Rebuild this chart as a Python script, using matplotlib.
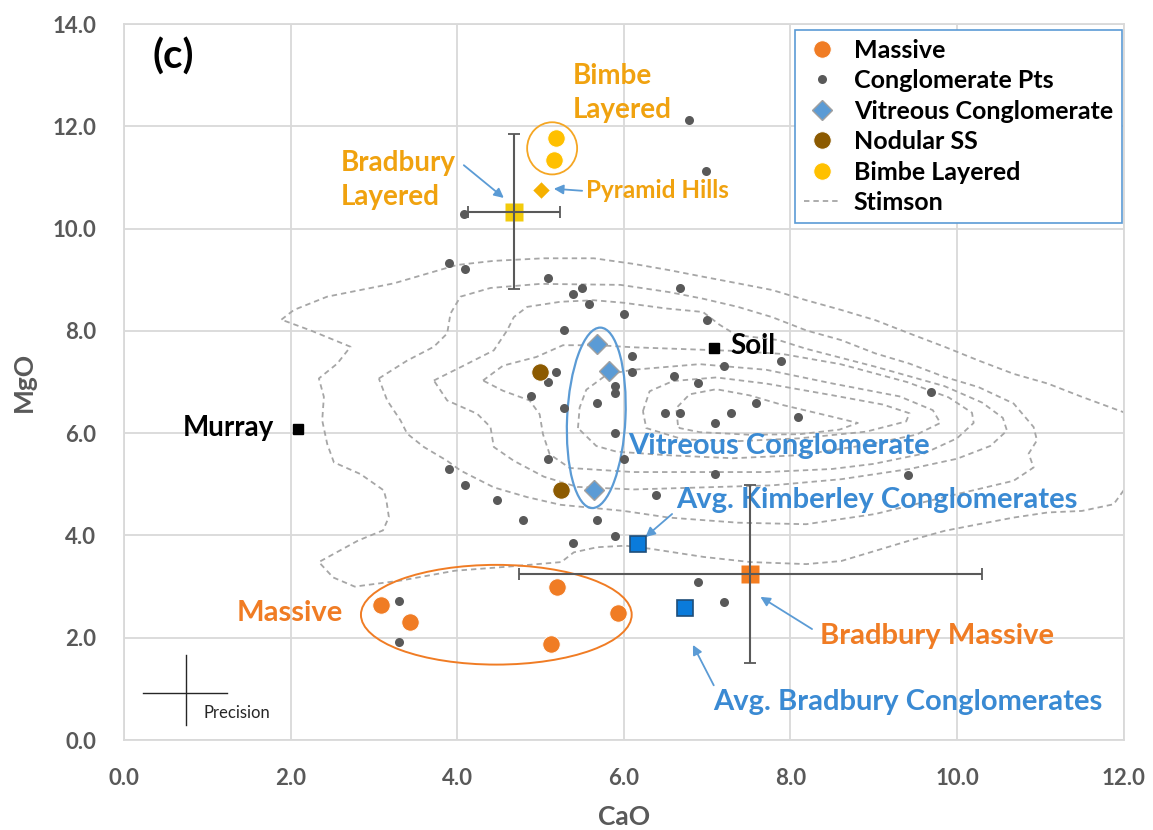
import numpy as np
import matplotlib
matplotlib.use("Agg")
import matplotlib.pyplot as plt
from matplotlib.patches import Ellipse

plt.rcParams['font.family'] = ['Lato', 'DejaVu Sans']
plt.rcParams['font.weight'] = 'bold'

# --- datos ---
conglom_x = [3.90, 4.09, 5.09, 5.39, 5.50, 5.58, 6.68, 6.00, 7.00, 5.28,
             6.10, 5.19, 6.10, 5.09, 5.90, 5.90, 4.89, 5.68, 5.28, 7.20,
             7.89, 6.60, 6.89, 7.59, 6.49, 6.68, 7.29, 7.10, 8.09, 5.90,
             6.00, 5.09, 3.90, 4.09, 4.48, 7.10, 6.39, 4.79, 5.68, 5.90,
             5.39, 6.78, 6.99, 4.08, 9.69, 9.41, 3.30, 3.30, 6.89, 7.20]
conglom_y = [9.33, 9.21, 9.03, 8.72, 8.83, 8.53, 8.83, 8.33, 8.22, 8.02,
             7.51, 7.20, 7.20, 7.00, 6.92, 6.79, 6.72, 6.60, 6.49, 7.31,
             7.42, 7.11, 6.99, 6.60, 6.40, 6.40, 6.40, 6.20, 6.31, 6.01,
             5.50, 5.50, 5.30, 4.99, 4.69, 5.20, 4.80, 4.30, 4.30, 3.98,
             3.86, 12.12, 11.12, 10.28, 6.80, 5.19, 2.72, 1.91, 3.09, 2.69]

massive_x = [3.09, 3.43, 5.20, 5.93, 5.13]
massive_y = [2.64, 2.30, 3.00, 2.49, 1.87]

vitreous_x = [5.68, 5.82, 5.64]
vitreous_y = [7.74, 7.21, 4.88]

nodular_x = [5.00, 5.25]
nodular_y = [7.20, 4.89]

bimbe_x = [5.19, 5.16]
bimbe_y = [11.77, 11.35]

pyramid_x, pyramid_y = [5.01], [10.75]

brad_layered = (4.68, 10.33, 0.55, 1.52)   # x, y, xerr, yerr
brad_massive = (7.52, 3.24, 2.78, 1.74)
avg_kimberley = (6.17, 3.83)
avg_bradbury = (6.74, 2.58)
murray = (2.09, 6.08)
soil = (7.08, 7.67)

# contornos Stimson (vértices, de afuera hacia adentro)
stimson_rings = [
    [(1.89, 8.22), (2.04, 8.41), (2.44, 8.67), (2.84, 8.80), (3.24, 8.93), (3.64, 9.12),
     (4.00, 9.29), (4.44, 9.37), (5.04, 9.42), (5.64, 9.42), (6.12, 9.31), (6.54, 9.19),
     (6.95, 9.06), (7.37, 8.93), (7.78, 8.80), (8.19, 8.60), (8.61, 8.41), (9.02, 8.21),
     (9.43, 7.95), (9.85, 7.69), (10.26, 7.42), (10.68, 7.16), (11.09, 6.97), (11.50, 6.71),
     (12.00, 6.41), (12.20, 6.00), (12.20, 5.20), (12.00, 4.88), (11.88, 4.61), (11.50, 4.48),
     (11.09, 4.45), (10.68, 4.35), (10.26, 4.22), (9.85, 4.09), (9.43, 3.90), (9.02, 3.70),
     (8.61, 3.50), (8.19, 3.44), (7.52, 3.48), (6.96, 3.58), (6.32, 3.74), (6.02, 3.80),
     (5.68, 3.77), (5.40, 3.67), (5.25, 3.48), (4.61, 3.39), (3.97, 3.31), (3.33, 3.12),
     (2.77, 3.00), (2.51, 3.18), (2.34, 3.48), (2.81, 3.90), (3.11, 4.10), (3.18, 4.36),
     (3.15, 4.69), (3.12, 4.88), (2.84, 5.20), (2.52, 5.43), (2.44, 5.79), (2.38, 6.25),
     (2.40, 6.71), (2.34, 7.07), (2.56, 7.36), (2.72, 7.69), (2.24, 8.01), (1.89, 8.22)],
    [(3.06, 7.07), (3.40, 7.42), (3.72, 7.69), (3.88, 7.95), (3.92, 8.34), (4.04, 8.67),
     (4.40, 8.84), (5.00, 8.92), (5.96, 8.90), (6.54, 8.76), (6.95, 8.63), (7.37, 8.47),
     (7.78, 8.27), (8.19, 8.01), (8.61, 7.82), (9.02, 7.56), (9.43, 7.36), (9.85, 7.10),
     (10.26, 6.90), (10.68, 6.58), (10.92, 6.12), (10.96, 5.86), (10.86, 5.60), (10.92, 5.33),
     (10.68, 5.07), (9.85, 4.75), (9.02, 4.42), (8.19, 4.22), (7.37, 4.25), (6.54, 4.35),
     (6.00, 4.48), (5.24, 4.60), (4.84, 4.75), (4.44, 4.94), (4.04, 5.27), (3.88, 5.46),
     (3.60, 5.73), (3.40, 5.99), (3.32, 6.25), (3.16, 6.64), (3.06, 7.07)],
    [(3.72, 7.03), (4.04, 7.29), (4.44, 7.62), (4.60, 8.01), (4.68, 8.27), (4.84, 8.47),
     (5.24, 8.57), (5.64, 8.60), (6.00, 8.55), (6.50, 8.44), (6.95, 8.37), (7.15, 8.12),
     (7.35, 7.92), (7.86, 7.82), (8.19, 7.65), (9.02, 7.30), (9.85, 6.92), (10.30, 6.60),
     (10.55, 6.30), (10.60, 6.05), (10.40, 5.75), (10.00, 5.50), (9.43, 5.30), (8.61, 5.10),
     (7.78, 4.98), (6.95, 4.94), (6.12, 4.90), (5.44, 4.95), (5.04, 5.15), (4.68, 5.46),
     (4.44, 5.73), (4.40, 6.12), (4.24, 6.38), (3.88, 6.64), (3.72, 7.03)],
    [(4.31, 7.03), (4.55, 7.32), (4.95, 7.49), (5.27, 7.72), (5.70, 7.72), (6.11, 7.68),
     (7.31, 7.61), (7.90, 7.55), (8.60, 7.35), (9.40, 7.00), (9.90, 6.70), (10.18, 6.40),
     (10.20, 6.20), (10.00, 5.90), (9.60, 5.60), (9.00, 5.40), (8.50, 5.30), (7.71, 5.24),
     (6.91, 5.24), (6.11, 5.24), (5.35, 5.32), (5.11, 5.59), (5.03, 5.98), (4.99, 6.37),
     (4.87, 6.64), (4.55, 6.83), (4.31, 7.03)],
    [(5.45, 6.10), (5.47, 6.50), (5.55, 6.85), (5.80, 7.15), (6.11, 7.24), (6.91, 7.35),
     (7.71, 7.24), (8.51, 6.97), (9.31, 6.72), (9.71, 6.45), (9.80, 6.20), (9.51, 5.97),
     (8.91, 5.77), (8.11, 5.57), (7.31, 5.51), (6.51, 5.57), (5.91, 5.64), (5.67, 5.75),
     (5.45, 6.10)],
    [(6.23, 6.43), (6.31, 6.82), (6.59, 7.02), (7.11, 7.09), (7.71, 6.97), (8.51, 6.74),
     (9.11, 6.56), (9.43, 6.39), (9.39, 6.23), (8.91, 6.03), (8.11, 5.90), (7.31, 5.84),
     (6.71, 5.88), (6.27, 6.10), (6.23, 6.43)],
    [(6.65, 6.16), (6.63, 6.49), (6.79, 6.76), (7.11, 6.86), (7.51, 6.74), (7.91, 6.55),
     (8.43, 6.35), (8.81, 6.20), (8.59, 6.07), (8.11, 5.98), (7.51, 5.97), (6.91, 6.02),
     (6.67, 6.10), (6.65, 6.16)],
]

x_ticks = [0, 2, 4, 6, 8, 10, 12]
y_ticks = [0, 2, 4, 6, 8, 10, 12, 14]

# colores
gris = '#595959'
naranja = '#F07C24'
azul = '#5B9BD5'
azul_txt = '#3A8AD3'
oro = '#FFC000'
oro_txt = '#F0A20F'
marron = '#8C5A00'
azul_sq = '#0A7BDB'

fig = plt.figure(figsize=(11.53, 8.30), dpi=100)
ax = fig.add_axes([0.1075, 0.1084, 0.867, 0.8626])

# contornos
for i, ring in enumerate(stimson_rings):
    rx = [p[0] for p in ring]
    ry = [p[1] for p in ring]
    ax.plot(rx, ry, color='#A6A6A6', lw=1.3, ls=(0, (3, 2.2)), zorder=1,
            label='Stimson' if i == 0 else None)

# puntos de conglomerado
ax.plot(conglom_x, conglom_y, 'o', color=gris, ms=6.5, mec='none', zorder=3,
        label='Conglomerate Pts')

# elipses
ax.add_patch(Ellipse((4.47, 2.45), 3.25, 1.95, fill=False, ec=naranja, lw=1.4, zorder=2))
ax.add_patch(Ellipse((5.67, 6.30), 3.53, 0.70, angle=88.4, fill=False, ec=azul, lw=1.6, zorder=2))
ax.add_patch(Ellipse((5.14, 11.57), 0.60, 1.02, fill=False, ec='#F5A623', lw=1.3, zorder=2))

# series principales
ax.plot(massive_x, massive_y, 'o', color=naranja, ms=12.5, mec='white', mew=0.6,
        zorder=4, label='Massive')
ax.plot(vitreous_x, vitreous_y, 'D', color=azul, ms=10, mec='#A0A0A0', mew=1.0,
        zorder=4, label='Vitreous Conglomerate')
ax.plot(nodular_x, nodular_y, 'o', color=marron, ms=12.5, mec='white', mew=0.6,
        zorder=4, label='Nodular SS')
ax.plot(bimbe_x, bimbe_y, 'o', color=oro, ms=12.5, mec='white', mew=0.6,
        zorder=4, label='Bimbe Layered')
ax.plot(pyramid_x, pyramid_y, 'D', color='#F5B000', ms=9.5, mec='white', mew=0.8, zorder=4)

# promedios con barras de error
ax.plot(brad_layered[0], brad_layered[1], 's', color='#F2CB0C', ms=12.5, mec='none', zorder=4)
ax.errorbar(brad_layered[0], brad_layered[1], xerr=brad_layered[2], yerr=brad_layered[3],
            fmt='none', ecolor=gris, elinewidth=1.5, capsize=4, capthick=1.3, zorder=5)
ax.plot(brad_massive[0], brad_massive[1], 's', color='#F47D20', ms=12.5, mec='none', zorder=4)
ax.errorbar(brad_massive[0], brad_massive[1], xerr=brad_massive[2], yerr=brad_massive[3],
            fmt='none', ecolor=gris, elinewidth=1.5, capsize=4, capthick=1.3, zorder=5)

ax.plot(*avg_kimberley, 's', color=azul_sq, ms=11.5, mec='#1F4E79', mew=1.2, zorder=4)
ax.plot(*avg_bradbury, 's', color=azul_sq, ms=11.5, mec='#1F4E79', mew=1.2, zorder=4)
ax.plot(*murray, 's', color='black', ms=6.5, zorder=4)
ax.plot(*soil, 's', color='black', ms=6.5, zorder=4)

# textos
B = 'bold'
ax.text(0.59, 13.37, '(c)', fontsize=29, fontweight=B, color='black', ha='center', va='center')
ax.text(5.39, 12.65, 'Bimbe\nLayered', fontsize=20, fontweight=B, color=oro_txt,
        ha='left', va='center', linespacing=1.35)
ax.text(2.60, 10.95, 'Bradbury\nLayered', fontsize=20, fontweight=B, color=oro_txt,
        ha='left', va='center', linespacing=1.35)
ax.text(5.55, 10.75, 'Pyramid Hills', fontsize=17.5, fontweight=B, color=oro_txt,
        ha='left', va='center')
ax.text(7.28, 7.70, 'Soil', fontsize=20, fontweight=B, color='black', ha='left', va='center')
ax.text(1.80, 6.10, 'Murray', fontsize=20, fontweight=B, color='black', ha='right', va='center')
ax.text(6.05, 5.75, 'Vitreous Conglomerate', fontsize=21, fontweight=B, color=azul_txt,
        ha='left', va='center')
ax.text(6.63, 4.70, 'Avg. Kimberley Conglomerates', fontsize=21, fontweight=B, color=azul_txt,
        ha='left', va='center')
ax.text(8.35, 2.03, 'Bradbury Massive', fontsize=21, fontweight=B, color=naranja,
        ha='left', va='center')
ax.text(2.63, 2.49, 'Massive', fontsize=21, fontweight=B, color=naranja,
        ha='right', va='center')
ax.text(7.07, 0.75, 'Avg. Bradbury Conglomerates', fontsize=21, fontweight=B, color=azul_txt,
        ha='left', va='center')

arrow = dict(arrowstyle='-|>', color=azul, lw=1.3, mutation_scale=14, shrinkA=0, shrinkB=0)
ax.annotate('', xy=(4.56, 10.60), xytext=(4.08, 11.24), arrowprops=arrow)
ax.annotate('', xy=(5.16, 10.78), xytext=(5.50, 10.74), arrowprops=arrow)
ax.annotate('', xy=(6.26, 3.97), xytext=(6.58, 4.42), arrowprops=arrow)
ax.annotate('', xy=(7.64, 2.80), xytext=(8.26, 2.17), arrowprops=arrow)
ax.annotate('', xy=(6.83, 1.86), xytext=(7.08, 1.07), arrowprops=arrow)

# cruz de precisión
ax.plot([0.23, 1.24], [0.92, 0.92], color='#262626', lw=1.0)
ax.plot([0.75, 0.75], [0.29, 1.66], color='#262626', lw=1.0)
ax.text(0.95, 0.53, 'Precision', fontsize=12, fontweight='normal', color='#262626',
        ha='left', va='center')

# ejes
ax.set_xlim(0, 12)
ax.set_ylim(0, 14)
ax.set_xticks(x_ticks)
ax.set_yticks(y_ticks)
ax.set_xticklabels([f'{v:.1f}' for v in x_ticks], fontweight=B)
ax.set_yticklabels([f'{v:.1f}' for v in y_ticks], fontweight=B)
ax.tick_params(length=0, labelsize=16, labelcolor=gris, pad=20)
ax.grid(True, color='#D9D9D9', lw=1.3)
ax.set_axisbelow(True)
for s in ax.spines.values():
    s.set_color('#D9D9D9')
    s.set_linewidth(1.3)
ax.set_xlabel('CaO', fontsize=19, fontweight=B, color=gris, labelpad=12)
ax.set_ylabel('MgO', fontsize=19, fontweight=B, color=gris, labelpad=12)

# leyenda
order = ['Massive', 'Conglomerate Pts', 'Vitreous Conglomerate', 'Nodular SS',
         'Bimbe Layered', 'Stimson']
handles, labels = ax.get_legend_handles_labels()
lookup = dict(zip(labels, handles))
leg = ax.legend([lookup[k] for k in order], order, loc='upper right',
                bbox_to_anchor=(0.998, 0.992), borderaxespad=0,
                prop={'size': 18, 'weight': 'bold'},
                frameon=True, fancybox=False, edgecolor=azul, framealpha=1,
                handlelength=1.5, labelspacing=0.3, borderpad=0.35, handletextpad=0.5)
leg.get_frame().set_linewidth(1.2)
for t in leg.get_texts():
    t.set_color('black')

fig.savefig('out.png', dpi=100)
